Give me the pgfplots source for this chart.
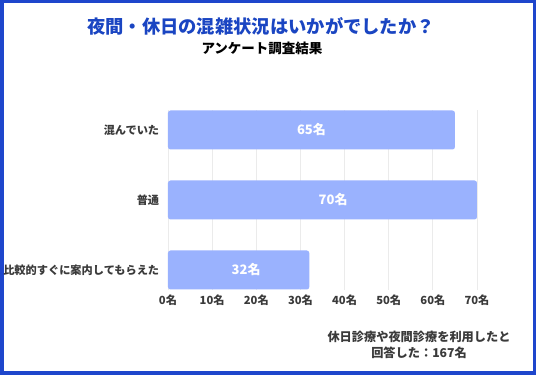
\documentclass[border=0pt]{standalone}
\usepackage{fontspec}
\setmainfont{Noto Sans CJK JP}
\usepackage{pgfplots}
\pgfplotsset{compat=1.18}
\definecolor{frameblue}{HTML}{1E46CC}
\definecolor{titleblue}{HTML}{1A45C2}
\definecolor{barblue}{HTML}{9AB2FE}
\definecolor{gridgray}{HTML}{EBEBEB}
\definecolor{txtgray}{HTML}{3A3A3A}
\begin{document}
\begin{tikzpicture}[x=1pt,y=1pt]
\useasboundingbox (0,0) rectangle (536,375);
\fill[white] (0,0) rectangle (536,375);
\draw[frameblue, line width=3.5pt] (1.75,1.75) rectangle (534.25,373.25);
\node[font=\bfseries\fontsize{18.3}{21}\selectfont, text=titleblue, anchor=center] at (261,375-26) {夜間・休日の混雑状況はいかがでしたか？};
\node[font=\bfseries\fontsize{13.5}{16}\selectfont, text=black, anchor=center] at (262,375-48) {アンケート調査結果};
\node[font=\bfseries\fontsize{12.2}{16}\selectfont, text=txtgray, align=center, anchor=center] at (419,375-345) {休日診療や夜間診療を利用したと\\回答した：167名};
\begin{axis}[
  at={(168pt,85pt)}, anchor=south west,
  width=309pt, height=180pt, scale only axis,
  xbar, bar width=39pt,
  xmin=0, xmax=70, ymin=-0.2857, ymax=2.2857,
  xtick={0,10,...,70},
  xticklabel={\pgfmathprintnumber{\tick}名},
  ytick={0,1,2},
  yticklabels={比較的すぐに案内してもらえた,普通,混んでいた},
  xmajorgrids, grid style={gridgray, line width=0.8pt},
  axis line style={draw=none},
  tick style={draw=none},
  ticklabel style={font=\bfseries\fontsize{11.2}{13}\selectfont, text=txtgray},
  xticklabel style={yshift=-1pt},
  yticklabel style={xshift=-1pt},
  /pgf/number format/assume math mode=true,
  clip=false,
]
\addplot[fill=barblue, draw=none, rounded corners=2.5pt] coordinates {(32,0) (70,1) (65,2)};
\addplot[only marks, mark=none, point meta=explicit symbolic,
  nodes near coords, nodes near coords style={anchor=center, text=white, font=\bfseries\fontsize{13}{15}\selectfont}]
  coordinates {(17.7,0) [32名] (37.4,1) [70名] (32.5,2) [65名]};
\end{axis}
\end{tikzpicture}
\end{document}
